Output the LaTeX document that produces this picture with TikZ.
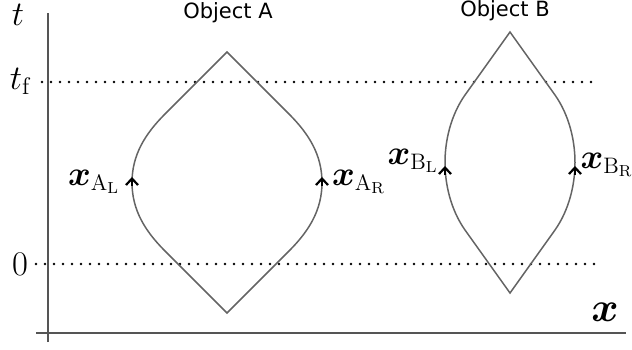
\documentclass[tikz,border=0pt]{standalone}
\usepackage{amsmath}
\usepackage{fontspec}
\newfontfamily\objfont{DejaVu Sans}
\usetikzlibrary{arrows.meta}
\definecolor{LineGray}{RGB}{100,100,100}
\definecolor{AxisGray}{RGB}{85,85,85}
\tikzset{
  worldline/.style={draw=LineGray, line width=0.75pt},
  axisline/.style={draw=AxisGray, line width=0.7pt},
  timeline/.style={line width=1.3pt, line cap=round, dash pattern=on 0pt off 4.5pt},
  flowtip/.style={black, line width=1.1pt, -{Straight Barb[length=3.2pt,width=6pt]}},
  mathlab/.style={font=\fontsize{16}{19}\selectfont, inner sep=1pt},
  objlab/.style={font=\objfont\fontsize{10.5}{12}\selectfont, inner sep=1pt}
}

\begin{document}
\begin{tikzpicture}[x=0.5pt, y=-0.5pt]
  \useasboundingbox (0,0) rectangle (632,349);
  % axes
  \coordinate (ttop) at (48,13);
  \coordinate (tbot) at (48,342);
  \coordinate (xleft) at (36,333);
  \coordinate (xright) at (626,333);
  \draw[axisline] (tbot) -- (ttop);
  \draw[axisline] (xleft) -- (xright);
  \node[font=\LARGE, inner sep=0pt] (tlab) at (18,15) {$t$};
  \node[font=\huge, inner sep=0pt] (xlab) at (605,312) {$\boldsymbol{x}$};

  % time slices
  \coordinate (tfstart) at (42,82);
  \coordinate (tfend) at (600,82);
  \coordinate (zstart) at (36,264);
  \coordinate (zend) at (597,264);
  \draw[timeline] (tfstart) -- (tfend);
  \draw[timeline] (zstart) -- (zend);
  \node[font=\LARGE, inner sep=0pt] (tflab) at (20,81) {$t_{\mathrm{f}}$};
  \node[font=\LARGE, inner sep=0pt] (zerolab) at (20,264) {$0$};

  % object A
  \draw[worldline] (227,52) -- (165,114)
    .. controls (145,134) and (132,155) .. (132,182.5)
    .. controls (132,210) and (145,231) .. (165,251) -- (227,313)
    -- (289,251) .. controls (309,231) and (322,210) .. (322,182.5)
    .. controls (322,155) and (309,134) .. (289,114) -- cycle;
  \node[objlab] (objA) at (228,13) {Object A};

  % object B
  \draw[worldline] (510,32) -- (465,95)
    .. controls (451,115) and (445,140) .. (445,162.5)
    .. controls (445,185) and (451,210) .. (465,230) -- (510,293)
    -- (555,230) .. controls (569,210) and (575,185) .. (575,162.5)
    .. controls (575,140) and (569,115) .. (555,95) -- cycle;
  \node[objlab] (objB) at (505,11) {Object B};

  % edge directions
  \coordinate (AL) at (132,177);
  \coordinate (AR) at (322,177);
  \coordinate (BL) at (445,166);
  \coordinate (BR) at (575,166);
  \draw[flowtip] ([yshift=-4.5pt]AL) -- (AL);
  \draw[flowtip] ([yshift=-4.5pt]AR) -- (AR);
  \draw[flowtip] ([yshift=-4.5pt]BL) -- (BL);
  \draw[flowtip] ([yshift=-4.5pt]BR) -- (BR);
  \node[mathlab] (xAL) at (94,182) {$\boldsymbol{x}_{\mathrm{A_L}}$};
  \node[mathlab] (xAR) at (359,182) {$\boldsymbol{x}_{\mathrm{A_R}}$};
  \node[mathlab] (xBL) at (413,161) {$\boldsymbol{x}_{\mathrm{B_L}}$};
  \node[mathlab] (xBR) at (607,165) {$\boldsymbol{x}_{\mathrm{B_R}}$};
\end{tikzpicture}
\end{document}
